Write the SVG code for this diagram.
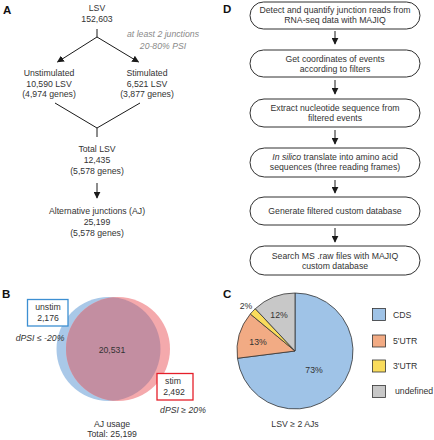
<svg xmlns="http://www.w3.org/2000/svg" width="434" height="440" viewBox="0 0 434 440">
<defs>
<marker id="ah" viewBox="0 0 10 10" refX="9" refY="5" markerWidth="7" markerHeight="7" markerUnits="userSpaceOnUse" orient="auto">
<path d="M0,0 L10,5 L0,10 z" fill="#1a1a1a"/>
</marker>
<clipPath id="blueClip"><circle cx="108.5" cy="349" r="52"/></clipPath>
<style>
text{font-family:"Liberation Sans",Arial,sans-serif;fill:#333;font-size:8.7px}
.c{text-anchor:middle}
.lbl{font-weight:bold;font-size:11.5px;fill:#111}
.note{fill:#8a8a8a;font-style:italic}
.it{font-style:italic}
.ln{stroke:#1a1a1a;stroke-width:1;fill:none}
.box{fill:#fff;stroke:#1a1a1a;stroke-width:0.9}
.pie{stroke:#333;stroke-width:0.8}
</style>
</defs>

<!-- Panel A -->
<text class="lbl" x="3" y="14">A</text>
<g id="a_lsv"><text class="c" x="97" y="11">LSV</text><text class="c" x="97" y="22">152,603</text></g>
<g id="a_note"><text class="c note" x="163" y="37">at least 2 junctions</text><text class="c note" x="163" y="49">20-80% PSI</text></g>
<g id="a_unstim"><text class="c" x="49" y="76">Unstimulated</text><text class="c" x="49" y="87">10,590 LSV</text><text class="c" x="49" y="97">(4,974 genes)</text></g>
<g id="a_stim"><text class="c" x="147" y="76">Stimulated</text><text class="c" x="147" y="87">6,521 LSV</text><text class="c" x="147" y="97">(3,877 genes)</text></g>
<g id="a_total"><text class="c" x="97" y="152">Total LSV</text><text class="c" x="97" y="163">12,435</text><text class="c" x="97" y="174">(5,578 genes)</text></g>
<g id="a_aj"><text class="c" x="97" y="214">Alternative junctions (AJ)</text><text class="c" x="97" y="225">25,199</text><text class="c" x="97" y="236">(5,578 genes)</text></g>

<!-- Panel D -->
<text class="lbl" x="223" y="13">D</text>
<g id="d1"><rect class="box" x="250" y="2" width="170" height="27" rx="13.5"/><text class="c" x="335" y="12.5">Detect and quantify junction reads from</text><text class="c" x="335" y="22.5">RNA-seq data with MAJIQ</text></g>
<g id="d2"><rect class="box" x="250" y="50" width="170" height="27" rx="13.5"/><text class="c" x="335" y="62">Get coordinates of events</text><text class="c" x="335" y="72">according to filters</text></g>
<g id="d3"><rect class="box" x="250" y="99" width="170" height="28" rx="14"/><text class="c" x="335" y="111">Extract nucleotide sequence from</text><text class="c" x="335" y="121">filtered events</text></g>
<g id="d4"><rect class="box" x="250" y="148" width="170" height="29" rx="14.5"/><text class="c" x="335" y="160"><tspan class="it">In silico</tspan> translate into amino acid</text><text class="c" x="335" y="170">sequences (three reading frames)</text></g>
<g id="d5"><rect class="box" x="250" y="197" width="170" height="28" rx="14"/><text class="c" x="335" y="214">Generate filtered custom database</text></g>
<g id="d6"><rect class="box" x="250" y="246" width="170" height="29" rx="14.5"/><text class="c" x="335" y="259">Search MS .raw files with MAJIQ</text><text class="c" x="335" y="269">custom database</text></g>

<!-- Connectors -->
<g id="connectors">
<path class="ln" d="M97,29 V37 M97,37 L57.5,62" marker-end="url(#ah)"/>
<path class="ln" d="M97,37 L138.5,62" marker-end="url(#ah)"/>
<path class="ln" d="M55,103 L97,128 L140,103 M97,128 V137"/>
<path class="ln" d="M97,183 V198" marker-end="url(#ah)"/>
<path class="ln" d="M335,31 V44" marker-end="url(#ah)"/>
<path class="ln" d="M335,80 V94" marker-end="url(#ah)"/>
<path class="ln" d="M335,130 V144" marker-end="url(#ah)"/>
<path class="ln" d="M335,180 V193" marker-end="url(#ah)"/>
<path class="ln" d="M335,228 V242" marker-end="url(#ah)"/>
</g>

<!-- Panel B -->
<text class="lbl" x="2" y="298">B</text>
<g id="venn">
<circle cx="108.5" cy="349" r="52" fill="#a9c8e8"/>
<circle cx="118" cy="349" r="52" fill="#f4a9ac"/>
<circle cx="118" cy="349" r="52" fill="#c38ea1" clip-path="url(#blueClip)"/>
<text class="c" x="112" y="353">20,531</text>
</g>
<g id="b_unstim"><rect x="27.5" y="299.5" width="40.5" height="26.5" fill="#fff" stroke="#3d8fd2" stroke-width="1.3"/><text class="c" x="48" y="310">unstim</text><text class="c" x="48" y="321">2,176</text></g>
<text class="c it" x="40" y="341">dPSI ≤ -20%</text>
<g id="b_stim"><rect x="157" y="373.5" width="36" height="26.5" fill="#fff" stroke="#e51f2a" stroke-width="1.3"/><text class="c" x="173" y="384">stim</text><text class="c" x="174" y="395">2,492</text></g>
<text class="c it" x="183" y="413">dPSI ≥ 20%</text>
<text class="c" x="112" y="427">AJ usage</text>
<text class="c" x="112" y="437">Total: 25,199</text>

<!-- Panel C -->
<text class="lbl" x="223" y="298">C</text>
<g id="pie">
<path class="pie" fill="#9fc3e7" d="M295,351 L295,293 A58,58 0 1 1 237.46,358.27 Z"/>
<path class="pie" fill="#f2ab84" d="M295,351 L237.46,358.27 A58,58 0 0 1 250.31,314.03 Z"/>
<path class="pie" fill="#f9dc5c" d="M295,351 L250.31,314.03 A58,58 0 0 1 255.30,308.72 Z"/>
<path class="pie" fill="#c8c8c8" d="M295,351 L255.30,308.72 A58,58 0 0 1 295,293 Z"/>
<text class="c" x="314" y="373">73%</text>
<text class="c" x="258" y="345">13%</text>
<text class="c" x="279" y="318">12%</text>
<text class="c" x="246" y="309">2%</text>
</g>
<g id="legend">
<rect x="372.5" y="308.5" width="13" height="12" fill="#9fc3e7" stroke="#333" stroke-width="0.8"/><text x="393" y="318">CDS</text>
<rect x="372.5" y="335" width="13" height="12" fill="#f2ab84" stroke="#333" stroke-width="0.8"/><text x="393" y="344">5'UTR</text>
<rect x="372.5" y="360" width="13" height="12" fill="#f9dc5c" stroke="#333" stroke-width="0.8"/><text x="393" y="369">3'UTR</text>
<rect x="372.5" y="385.5" width="13" height="12" fill="#c8c8c8" stroke="#333" stroke-width="0.8"/><text x="395" y="394">undefined</text>
</g>
<text class="c" x="295" y="427">LSV ≥ 2 AJs</text>
</svg>
